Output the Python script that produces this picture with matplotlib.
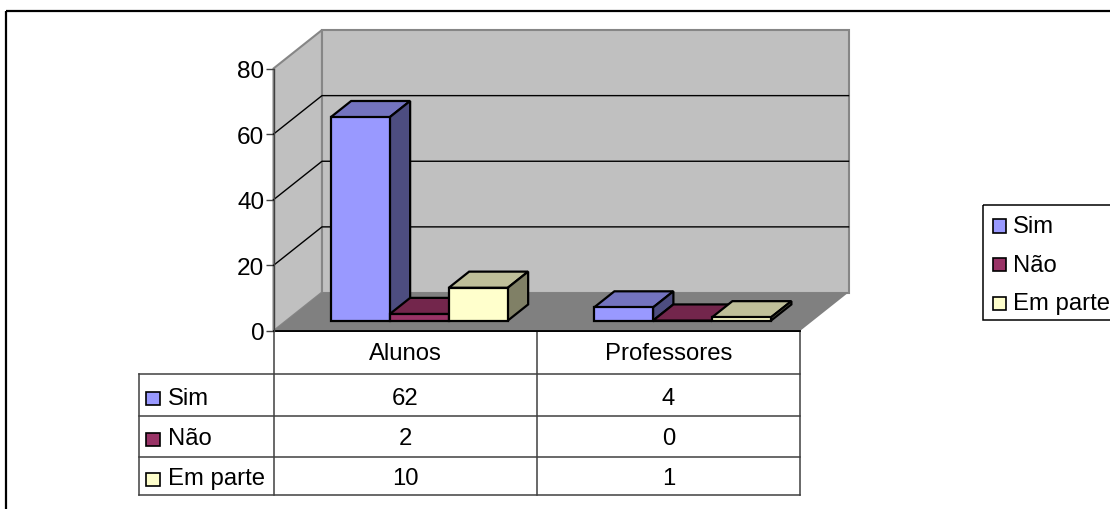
import matplotlib
matplotlib.use("Agg")
import matplotlib.pyplot as plt
from matplotlib.patches import Polygon, Rectangle

categories = ["Alunos", "Professores"]
series = ["Sim", "Não", "Em parte"]
sim = [62, 4]
nao = [2, 0]
em_parte = [10, 1]
values = [sim, nao, em_parte]
y_ticks = [0, 20, 40, 60, 80]

front = ["#9999ff", "#993366", "#ffffcc"]
top = ["#7373bf", "#73264c", "#bfbf99"]
side = ["#4d4d80", "#4d1a33", "#808066"]

W, H = 1110, 510
plt.rcParams["font.family"] = ["Liberation Sans", "DejaVu Sans"]
FS = 17.2

fig = plt.figure(figsize=(W / 100, H / 100), dpi=100)

# pixel overlay for frame, table and legend
bg = fig.add_axes([0, 0, 1, 1])
bg.set_xlim(0, W)
bg.set_ylim(H, 0)
bg.axis("off")

# front plane of the 3d box, real value scale
L, R, Y0, Y80 = 273.5, 800, 332, 69.5
ax = fig.add_axes([L / W, 1 - Y0 / H, (R - L) / W, (Y0 - Y80) / H])
ax.set_xlim(0, 2)
ax.set_ylim(0, 80)
ax.patch.set_visible(False)
for s in ["top", "right", "bottom"]:
    ax.spines[s].set_visible(False)
ax.spines["left"].set_linewidth(1.0)
ax.spines["left"].set_color("#404040")
ax.spines["left"].set_zorder(6)
ax.set_xticks([])
ax.set_yticks(y_ticks)
ax.tick_params(axis="y", length=6, width=1, color="#404040", labelsize=17.6, pad=0.5)

# depth of the box in data units
DX = 48.5 / ((R - L) / 2)
DY = 38.5 / ((Y0 - Y80) / 80)


def poly(pts, fc, ec="none", lw=0, z=1):
    ax.add_patch(Polygon(pts, closed=True, facecolor=fc, edgecolor=ec, linewidth=lw,
                         zorder=z, clip_on=False, joinstyle="miter"))


# walls and floor
poly([(0, 0), (DX, DY), (DX, 80 + DY), (0, 80)], "#c0c0c0", "#868686", 1.5)
poly([(DX, DY), (2 + DX, DY), (2 + DX, 80 + DY), (DX, 80 + DY)], "#c0c0c0", "#868686", 1.5)
poly([(0, 0), (2, 0), (2 + DX, DY), (DX, DY)], "#808080", z=2)
for t in y_ticks[1:-1]:
    ax.plot([0, DX, 2 + DX], [t, t + DY, t + DY], color="black", lw=1, zorder=2, clip_on=False)
ax.plot([0, 2], [0, 0], color="black", lw=1.3, zorder=5, clip_on=False)

# bars
bw = 59 / ((R - L) / 2)
gap = (1 - 3 * bw) / 2
d0, d1 = 0.27, 0.69
z = 3.0
for c in range(len(categories)):
    for i in range(len(series)):
        v = values[i][c]
        x0 = c + gap + i * bw + DX * d0 + 0.004
        x1 = x0 + bw
        b = DY * d0
        t = b + v
        ox, oy = DX * (d1 - d0), DY * (d1 - d0)
        poly([(x0, t), (x1, t), (x1 + ox, t + oy), (x0 + ox, t + oy)], top[i], "black", 1.6, z)
        poly([(x1, b), (x1 + ox, b + oy), (x1 + ox, t + oy), (x1, t)], side[i], "black", 1.6, z)
        poly([(x0, b), (x1, b), (x1, t), (x0, t)], front[i], "black", 1.6, z)
        z += 0.01

# outer frame
bg.add_patch(Rectangle((6, 11.5), W + 20, 510, fill=False, ec="black", lw=1.6))

# data table
col_x = [138.5, 273.5, 537, 800]
row_y = [332, 374.5, 417, 458, 496]
lc = "#404040"
bg.plot([col_x[1], col_x[3]], [row_y[0], row_y[0]], color="black", lw=1.2)
for y in row_y[1:]:
    bg.plot([col_x[0], col_x[3]], [y, y], color=lc, lw=1.1)
for x in col_x[1:]:
    bg.plot([x, x], [row_y[0], row_y[4]], color=lc, lw=1.1)
bg.plot([col_x[0], col_x[0]], [row_y[1], row_y[4]], color=lc, lw=1.1)

base_y = [405, 445.5, 485]
box_top = [392.5, 433.5, 473.5]
for c, name in enumerate(categories):
    cx = (col_x[c + 1] + col_x[c + 2]) / 2
    bg.text(cx, 360, name, ha="center", va="baseline", fontsize=FS)
    for i in range(len(series)):
        bg.text(cx, base_y[i], str(values[i][c]), ha="center", va="baseline", fontsize=FS)

for i, name in enumerate(series):
    bg.add_patch(Rectangle((146, box_top[i]), 13.5, 13.5, fc=front[i], ec="black", lw=1.2))
    bg.text(168, base_y[i], name, ha="left", va="baseline", fontsize=FS)

# legend, runs off the right edge like the original
bg.add_patch(Rectangle((983, 206), 200, 115, fill=False, ec="black", lw=1.1))
leg_base = [233, 272, 310]
leg_top = [220, 258.5, 297.5]
for i, name in enumerate(series):
    bg.add_patch(Rectangle((992.5, leg_top[i]), 13.5, 13.5, fc=front[i], ec="black", lw=1.2))
    bg.text(1013, leg_base[i], name, ha="left", va="baseline", fontsize=FS)

fig.savefig("out.png", dpi=100)
